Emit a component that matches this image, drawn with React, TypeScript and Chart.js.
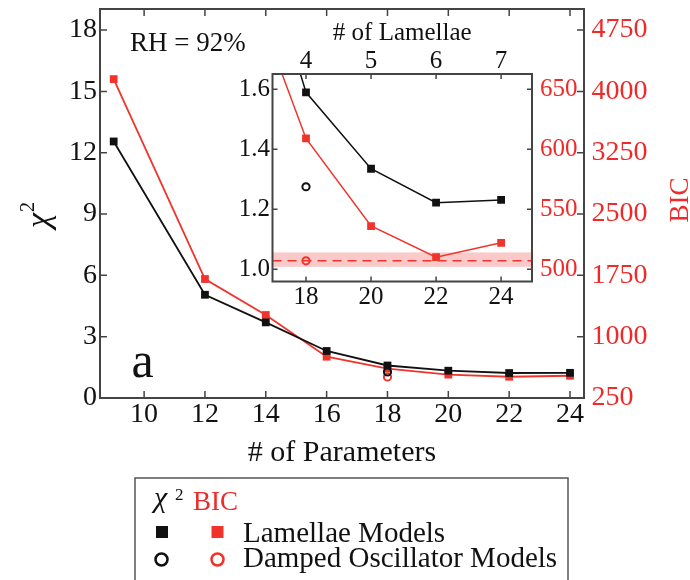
import { useEffect, useRef } from 'react';
import { Chart, registerables } from 'chart.js';

Chart.register(...registerables);

// Model comparison data: number of fit parameters vs. chi-square and BIC
const PARAMS = [9, 12, 14, 16, 18, 20, 22, 24];
const CHI2_LAMELLAE = [12.55, 5.05, 3.7, 2.3, 1.59, 1.335, 1.222, 1.231];
const BIC_LAMELLAE = [4150, 1705, 1265, 755, 609, 536, 510, 522];
const PARAMS_DAMPED = [18];
const CHI2_DAMPED = [1.275];
const BIC_DAMPED = [507];
const BIC_DAMPED_BAND = [502, 514];

const X_TICKS = [10, 12, 14, 16, 18, 20, 22, 24];
const CHI2_TICKS = [0, 3, 6, 9, 12, 15, 18];
const BIC_TICKS = [250, 1000, 1750, 2500, 3250, 4000, 4750];
const INSET_X_TICKS = [18, 20, 22, 24];
const LAMELLAE_TICKS = [4, 5, 6, 7];
const INSET_CHI2_TICKS = [1.0, 1.2, 1.4, 1.6];
const INSET_BIC_TICKS = [500, 550, 600, 650];

const SERIF = '"Liberation Serif", "Times New Roman", serif';
const BLACK = '#111111';
const RED = '#f0342c';
const RED_TEXT = '#ee2a2a';
const FRAME = '#444444';

const pts = (xs: number[], ys: number[]) => xs.map((x, i) => ({ x, y: ys[i] }));

const fixTicks = (values: number[]) => (scale: any) => {
  scale.ticks = values.map((value) => ({ value }));
};

const fixSize = (dim: 'width' | 'height', size: number) => (scale: any) => {
  scale[dim] = size;
  scale.paddingTop = 0;
  scale.paddingBottom = 0;
  scale.paddingLeft = 0;
  scale.paddingRight = 0;
};

const plain = (v: number) => String(v);

const noGrid = { display: false, drawTicks: false };
const noBorder = { display: false };

function seriesDatasets(lineWidth: number, clip?: number) {
  const extra = clip === undefined ? {} : { clip };
  return [
    {
      label: 'χ² damped oscillator',
      data: pts(PARAMS_DAMPED, CHI2_DAMPED),
      yAxisID: 'y',
      showLine: false,
      pointStyle: 'circle',
      pointRadius: 3.6,
      pointBorderWidth: 2,
      pointBorderColor: BLACK,
      pointBackgroundColor: 'rgba(0,0,0,0)',
      ...extra,
    },
    {
      label: 'BIC damped oscillator',
      data: pts(PARAMS_DAMPED, BIC_DAMPED),
      yAxisID: 'y2',
      showLine: false,
      pointStyle: 'circle',
      pointRadius: 3.6,
      pointBorderWidth: 2,
      pointBorderColor: RED,
      pointBackgroundColor: 'rgba(0,0,0,0)',
      ...extra,
    },
    {
      label: 'χ² lamellae',
      data: pts(PARAMS, CHI2_LAMELLAE),
      yAxisID: 'y',
      borderColor: BLACK,
      borderWidth: lineWidth,
      pointStyle: 'rect',
      pointRadius: 5.5,
      pointBorderWidth: 0,
      pointBackgroundColor: BLACK,
      tension: 0,
      ...extra,
    },
    {
      label: 'BIC lamellae',
      data: pts(PARAMS, BIC_LAMELLAE),
      yAxisID: 'y2',
      borderColor: RED,
      borderWidth: lineWidth,
      pointStyle: 'rect',
      pointRadius: 5.5,
      pointBorderWidth: 0,
      pointBackgroundColor: RED,
      tension: 0,
      ...extra,
    },
  ];
}

function drawFrame(chart: any, len: number, xTop: boolean) {
  const { ctx, chartArea: a, scales } = chart;
  ctx.save();
  ctx.strokeStyle = FRAME;
  ctx.lineWidth = 1.5;
  ctx.beginPath();
  scales.x.ticks.forEach((t: any) => {
    const px = scales.x.getPixelForValue(t.value);
    ctx.moveTo(px, a.bottom);
    ctx.lineTo(px, a.bottom - len);
    if (xTop) {
      ctx.moveTo(px, a.top);
      ctx.lineTo(px, a.top + len);
    }
  });
  scales.y.ticks.forEach((t: any) => {
    const py = scales.y.getPixelForValue(t.value);
    ctx.moveTo(a.left, py);
    ctx.lineTo(a.left + len, py);
  });
  scales.y2.ticks.forEach((t: any) => {
    const py = scales.y2.getPixelForValue(t.value);
    ctx.moveTo(a.right, py);
    ctx.lineTo(a.right - len, py);
  });
  ctx.stroke();
  ctx.lineWidth = 2;
  ctx.strokeRect(a.left, a.top, a.right - a.left, a.bottom - a.top);
  ctx.restore();
}

const mainDecor = {
  id: 'mainDecor',
  afterDraw(chart: any) {
    const { ctx, chartArea: a } = chart;
    drawFrame(chart, 7, true);
    ctx.save();
    ctx.fillStyle = BLACK;
    ctx.textBaseline = 'alphabetic';

    // x-axis title
    ctx.font = `30px ${SERIF}`;
    ctx.textAlign = 'center';
    ctx.fillText('# of Parameters', (a.left + a.right) / 2, 461);

    // annotations inside the plot
    ctx.font = `27px ${SERIF}`;
    ctx.textAlign = 'left';
    ctx.fillText('RH = 92%', 130, 50.5);
    ctx.font = `50px ${SERIF}`;
    ctx.textAlign = 'center';
    ctx.fillText('a', 142.5, 376.5);

    // left axis title: chi-square
    ctx.save();
    ctx.translate(49, 228);
    ctx.rotate(-Math.PI / 2);
    ctx.textAlign = 'left';
    ctx.font = `italic 34px ${SERIF}`;
    ctx.fillText('χ', 0, 0);
    const w = ctx.measureText('χ').width;
    ctx.font = `20px ${SERIF}`;
    ctx.fillText('2', w + 1, -15);
    ctx.restore();

    // right axis title
    ctx.save();
    ctx.translate(688, 200);
    ctx.rotate(-Math.PI / 2);
    ctx.textAlign = 'center';
    ctx.fillStyle = RED_TEXT;
    ctx.font = `27px ${SERIF}`;
    ctx.fillText('BIC', 0, 0);
    ctx.restore();

    // legend box
    ctx.strokeStyle = '#555555';
    ctx.lineWidth = 1.5;
    ctx.strokeRect(135, 478, 433, 200);
    ctx.textAlign = 'left';
    ctx.fillStyle = BLACK;
    ctx.font = `italic 30px ${SERIF}`;
    ctx.fillText('χ', 154, 507);
    ctx.font = `17px ${SERIF}`;
    ctx.fillText('2', 175, 500);
    ctx.fillStyle = RED_TEXT;
    ctx.font = `27px ${SERIF}`;
    ctx.fillText('BIC', 193, 510);

    ctx.fillStyle = BLACK;
    ctx.fillRect(156, 526, 12, 12);
    ctx.fillStyle = RED;
    ctx.fillRect(211.5, 526, 12, 12);
    ctx.lineWidth = 2.5;
    ctx.strokeStyle = BLACK;
    ctx.beginPath();
    ctx.arc(161.5, 559.5, 6, 0, Math.PI * 2);
    ctx.stroke();
    ctx.strokeStyle = RED;
    ctx.beginPath();
    ctx.arc(217.5, 559.5, 6, 0, Math.PI * 2);
    ctx.stroke();

    ctx.fillStyle = BLACK;
    ctx.font = `29px ${SERIF}`;
    ctx.fillText('Lamellae Models', 243, 542);
    ctx.fillText('Damped Oscillator Models', 243, 567);
    ctx.restore();
  },
};

const insetDecor = {
  id: 'insetDecor',
  beforeDatasetsDraw(chart: any) {
    const { ctx, chartArea: a, scales } = chart;
    ctx.save();
    ctx.fillStyle = '#ffffff';
    ctx.fillRect(a.left, a.top, a.right - a.left, a.bottom - a.top);
    const y0 = scales.y2.getPixelForValue(BIC_DAMPED_BAND[0]);
    const y1 = scales.y2.getPixelForValue(BIC_DAMPED_BAND[1]);
    ctx.fillStyle = 'rgba(236, 60, 60, 0.28)';
    ctx.fillRect(a.left, y1, a.right - a.left, y0 - y1);
    const yr = scales.y2.getPixelForValue(BIC_DAMPED[0]);
    ctx.strokeStyle = RED;
    ctx.lineWidth = 1.5;
    ctx.setLineDash([9, 6]);
    ctx.beginPath();
    ctx.moveTo(a.left, yr);
    ctx.lineTo(a.right, yr);
    ctx.stroke();
    ctx.restore();
  },
  afterDraw(chart: any) {
    const { ctx, chartArea: a } = chart;
    drawFrame(chart, 5, true);
    ctx.save();
    ctx.fillStyle = BLACK;
    ctx.font = `25px ${SERIF}`;
    ctx.textAlign = 'center';
    ctx.textBaseline = 'alphabetic';
    ctx.fillText('# of Lamellae', (a.left + a.right) / 2, 40);
    ctx.restore();
  },
};

const tickFont = (size: number) => ({ family: SERIF, size, lineHeight: 1 });

function mainConfig(): any {
  return {
    type: 'line',
    data: { datasets: seriesDatasets(1.8) },
    plugins: [mainDecor],
    options: {
      animation: false,
      responsive: false,
      devicePixelRatio: 1,
      events: [],
      layout: { padding: { top: 9, left: 0, right: 0, bottom: 0 } },
      plugins: { legend: { display: false }, tooltip: { enabled: false } },
      scales: {
        x: {
          type: 'linear',
          position: 'bottom',
          min: 8.55,
          max: 24.46,
          afterBuildTicks: fixTicks(X_TICKS),
          afterFit: fixSize('height', 182),
          grid: noGrid,
          border: noBorder,
          ticks: { font: tickFont(28), color: BLACK, padding: 2.5, maxRotation: 0, autoSkip: false, callback: plain },
        },
        y: {
          type: 'linear',
          position: 'left',
          min: 0,
          max: 19.03,
          afterBuildTicks: fixTicks(CHI2_TICKS),
          afterFit: fixSize('width', 100),
          grid: noGrid,
          border: noBorder,
          ticks: { font: tickFont(28), color: BLACK, padding: 3, autoSkip: false, callback: plain },
        },
        y2: {
          type: 'linear',
          position: 'right',
          min: 250,
          max: 5007.5,
          afterBuildTicks: fixTicks(BIC_TICKS),
          afterFit: fixSize('width', 106),
          grid: noGrid,
          border: noBorder,
          ticks: { font: tickFont(28), color: RED_TEXT, padding: 7.5, autoSkip: false, callback: plain },
        },
      },
    },
  };
}

function insetConfig(): any {
  return {
    type: 'line',
    data: { datasets: seriesDatasets(1.5, 0) },
    plugins: [insetDecor],
    options: {
      animation: false,
      responsive: false,
      devicePixelRatio: 1,
      events: [],
      layout: { padding: 0 },
      plugins: { legend: { display: false }, tooltip: { enabled: false } },
      scales: {
        x: {
          type: 'linear',
          position: 'bottom',
          min: 16.97,
          max: 24.95,
          afterBuildTicks: fixTicks(INSET_X_TICKS),
          afterFit: fixSize('height', 38.5),
          grid: noGrid,
          border: noBorder,
          ticks: { font: tickFont(25), color: BLACK, padding: 3.5, maxRotation: 0, autoSkip: false, callback: plain },
        },
        x2: {
          type: 'linear',
          position: 'top',
          min: 16.97,
          max: 24.95,
          afterBuildTicks: fixTicks(INSET_X_TICKS),
          afterFit: fixSize('height', 74),
          grid: noGrid,
          border: noBorder,
          ticks: {
            font: tickFont(25),
            color: BLACK,
            padding: 0,
            maxRotation: 0,
            autoSkip: false,
            callback: (v: number) => String(LAMELLAE_TICKS[INSET_X_TICKS.indexOf(v)]),
          },
        },
        y: {
          type: 'linear',
          position: 'left',
          min: 0.959,
          max: 1.651,
          afterBuildTicks: fixTicks(INSET_CHI2_TICKS),
          afterFit: fixSize('width', 72.5),
          grid: noGrid,
          border: noBorder,
          ticks: {
            font: tickFont(25),
            color: BLACK,
            padding: 2.5,
            autoSkip: false,
            callback: (v: number) => v.toFixed(1),
          },
        },
        y2: {
          type: 'linear',
          position: 'right',
          min: 489.75,
          max: 662.75,
          afterBuildTicks: fixTicks(INSET_BIC_TICKS),
          afterFit: fixSize('width', 68),
          grid: noGrid,
          border: noBorder,
          ticks: { font: tickFont(25), color: RED_TEXT, padding: 8, autoSkip: false, callback: plain },
        },
      },
    },
  };
}

export default function App() {
  const mainRef = useRef<HTMLCanvasElement>(null);
  const insetRef = useRef<HTMLCanvasElement>(null);

  useEffect(() => {
    const main = new Chart(mainRef.current as HTMLCanvasElement, mainConfig());
    const inset = new Chart(insetRef.current as HTMLCanvasElement, insetConfig());
    return () => {
      main.destroy();
      inset.destroy();
    };
  }, []);

  return (
    <div
      style={{
        position: 'absolute',
        left: 0,
        top: 0,
        width: 690,
        height: 580,
        overflow: 'hidden',
        background: '#ffffff',
      }}
    >
      <canvas ref={mainRef} width={690} height={580} style={{ position: 'absolute', left: 0, top: 0 }} />
      <canvas ref={insetRef} width={400} height={320} style={{ position: 'absolute', left: 200, top: 0 }} />
    </div>
  );
}
